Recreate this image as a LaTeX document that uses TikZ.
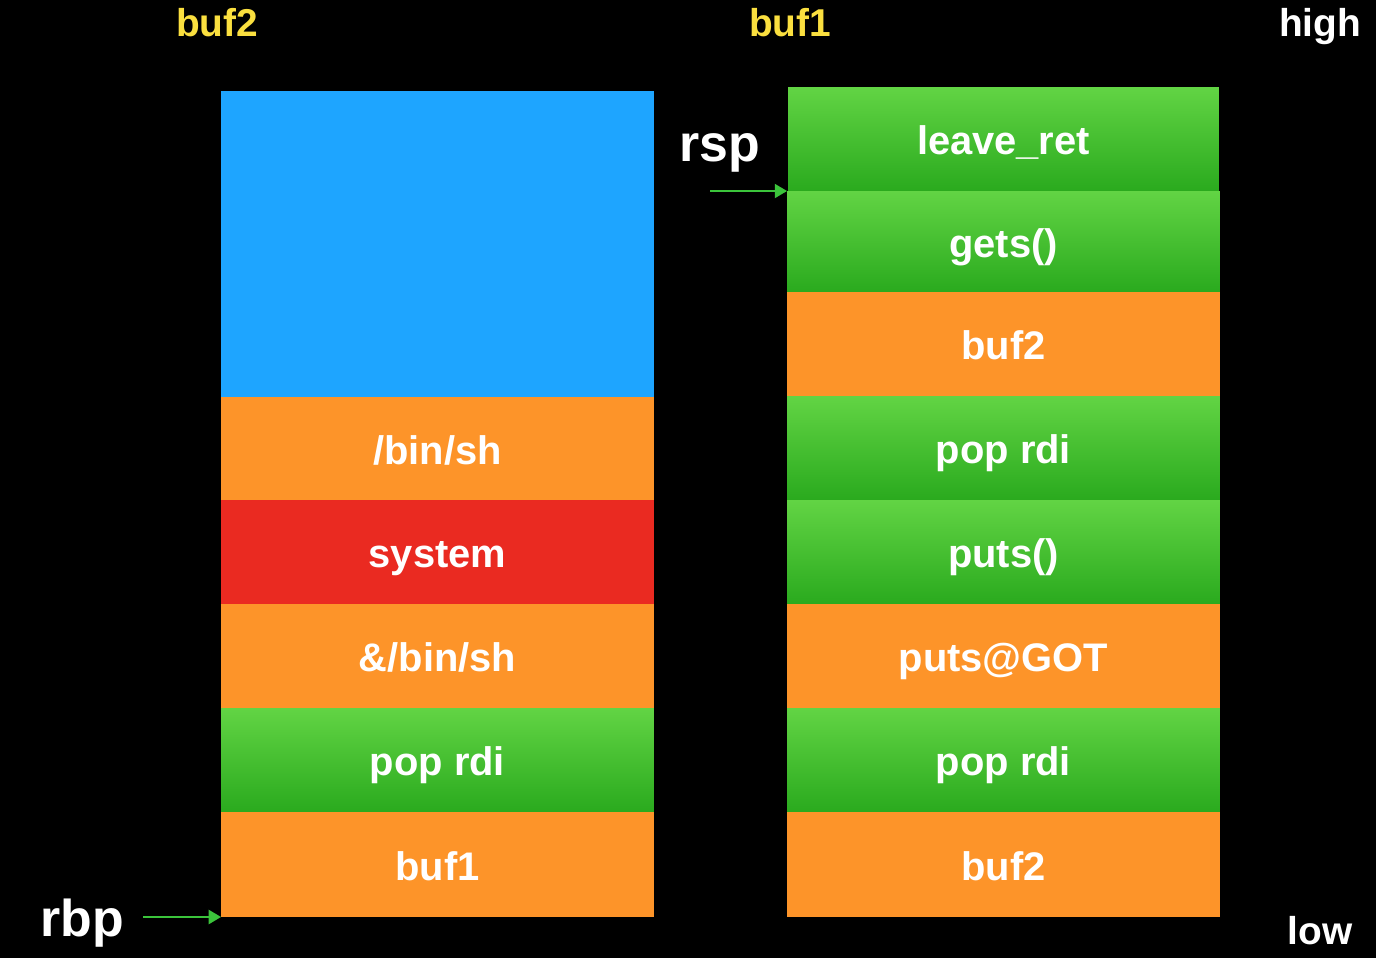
\documentclass[tikz,border=0pt]{standalone}
\usepackage{fontspec}
\setmainfont{Liberation Sans}
\usetikzlibrary{arrows.meta}
\definecolor{cblue}{HTML}{1EA5FF}
\definecolor{corange}{HTML}{FD9429}
\definecolor{cred}{HTML}{EA2A21}
\definecolor{cgreentop}{HTML}{62D444}
\definecolor{cgreenbot}{HTML}{2AAA1E}
\definecolor{cyellow}{HTML}{FADF3F}
\definecolor{carrow}{HTML}{3BC43B}
\tikzset{
  cell/.style={rectangle, inner sep=0pt, outer sep=0pt, minimum width=8.66cm,
    text=white, font=\fontsize{22.7}{26}\bfseries\selectfont,
    text height=22pt, text depth=4pt},
  orangecell/.style={cell, fill=corange},
  greencell/.style={cell, top color=cgreentop, bottom color=cgreenbot},
  lab/.style={inner sep=0pt, font=\fontsize{22.1}{26}\bfseries\selectfont,
    text height=19pt, text depth=4.3pt},
  biglab/.style={inner sep=0pt, text=white, font=\fontsize{29.5}{34}\bfseries\selectfont,
    text height=27pt, text depth=5.5pt},
  ptr/.style={draw=carrow, line width=1.1pt, -{Triangle[length=7pt,width=8pt]}},
}
\begin{document}
\begin{tikzpicture}[x=0.02cm, y=-0.02cm]
\fill[black] (0,0) rectangle (1376,958);
\useasboundingbox (0,0) rectangle (1376,958);

% left column (buf2)
\node[cell, fill=cblue, minimum height=6.12cm] (l0) at (437.5,244) {};
\node[orangecell, minimum height=2.06cm] (l1) at (437.5,448.5) {/bin/sh};
\node[cell, fill=cred, minimum height=2.08cm] (l2) at (437.5,552) {system};
\node[orangecell, minimum height=2.08cm] (l3) at (437.5,656) {\&/bin/sh};
\node[greencell, minimum height=2.08cm] (l4) at (437.5,760) {pop rdi};
\node[orangecell, minimum height=2.1cm] (l5) at (437.5,864.5) {buf1};

% right column (buf1)
\node[greencell, minimum height=2.08cm, minimum width=8.62cm] (r1) at (1003.5,139) {leave\_ret};
\node[greencell, minimum height=2.02cm] (r2) at (1003.5,241.5) {gets()};
\node[orangecell, minimum height=2.08cm] (r3) at (1003.5,344) {buf2};
\node[greencell, minimum height=2.08cm] (r4) at (1003.5,448) {pop rdi};
\node[greencell, minimum height=2.08cm] (r5) at (1003.5,552) {puts()};
\node[orangecell, minimum height=2.08cm] (r6) at (1003.5,656) {puts@GOT};
\node[greencell, minimum height=2.08cm] (r7) at (1003.5,760) {pop rdi};
\node[orangecell, minimum height=2.1cm] (r8) at (1003.5,864.5) {buf2};

% labels
\node[lab, text=cyellow] (tbuf2) at (217,24) {buf2};
\node[lab, text=cyellow] (tbuf1) at (790,24) {buf1};
\node[lab, text=white] (thigh) at (1320,24) {high};
\node[lab, text=white] (tlow) at (1320,932) {low};
\node[biglab] (trsp) at (720,143) {rsp};
\node[biglab] (trbp) at (82,918) {rbp};

% pointers
\coordinate (rspS) at (710,193);
\coordinate (rbpS) at (143,915);
\draw[ptr] (rspS |- r2.north west) -- (r2.north west);
\draw[ptr] (rbpS |- l5.south west) -- (l5.south west);
\end{tikzpicture}
\end{document}
